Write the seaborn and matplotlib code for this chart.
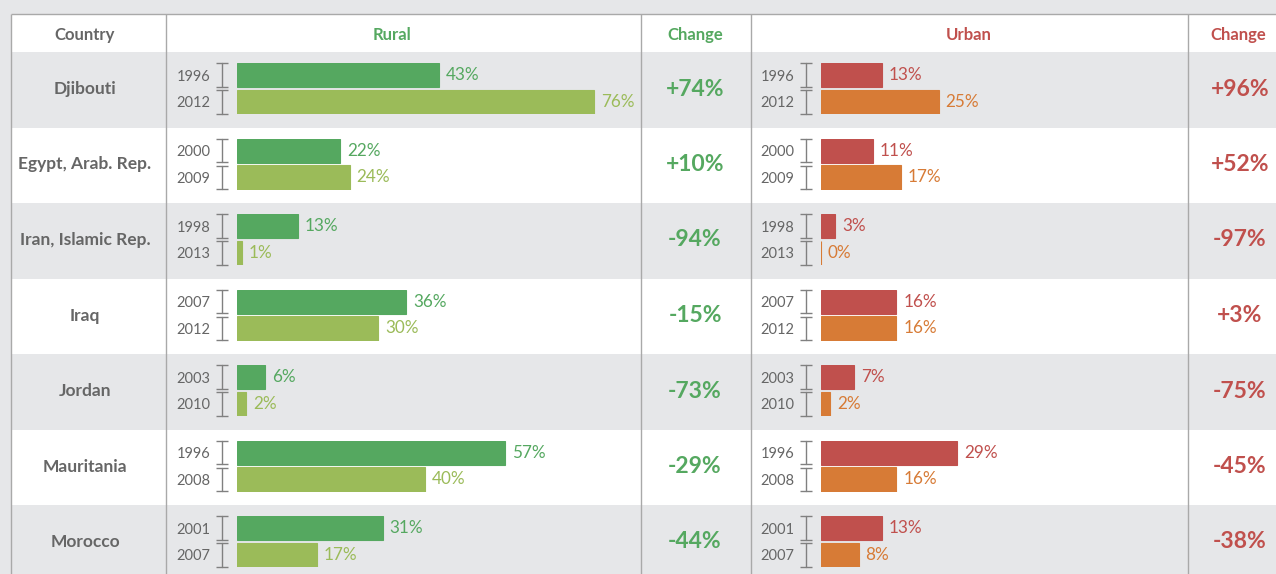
import matplotlib
matplotlib.use("Agg")
from matplotlib import pyplot as plt, transforms
from matplotlib.patches import Rectangle
import seaborn as sns
import pandas as pd

countries = ["Djibouti", "Egypt, Arab. Rep.", "Iran, Islamic Rep.", "Iraq",
             "Jordan", "Mauritania", "Morocco"]
years_first = ["1996", "2000", "1998", "2007", "2003", "1996", "2001"]
years_last = ["2012", "2009", "2013", "2012", "2010", "2008", "2007"]
rural_first = [43, 22, 13, 36, 6, 57, 31]
rural_last = [76, 24, 1, 30, 2, 40, 17]
urban_first = [13, 11, 3, 16, 7, 29, 13]
urban_last = [25, 17, 0, 16, 2, 16, 8]
rural_change = ["+74%", "+10%", "-94%", "-15%", "-73%", "-29%", "-44%"]
urban_change = ["+96%", "+52%", "-97%", "+3%", "-75%", "-45%", "-38%"]
headers = ["Country", "Rural", "Change", "Urban", "Change"]

W, H = 1276, 574
GRAY = "#e6e7e9"
LINE = "#a9a9a9"
TXT = "#666666"
GREEN, LGREEN = "#55a860", "#9bbb59"
RED, ORANGE = "#c0504d", "#d77b36"

sns.set_theme(style="white")
plt.rcParams["font.family"] = ["Lato", "DejaVu Sans"]

fig = plt.figure(figsize=(W / 100, H / 100), dpi=100, facecolor=GRAY)
bg = fig.add_axes([0, 0, 1, 1])
bg.set_xlim(0, W)
bg.set_ylim(H, 0)
bg.axis("off")

# table frame (pixel layout)
cols = [11, 166, 641, 751, 1188]
top, body_top, row_h = 14, 52, 75.5
px_per_pct = 4.7

bg.add_patch(Rectangle((11, top), W - 11, body_top - top, color="white", lw=0))
for i in range(len(countries)):
    if i % 2 == 1:
        bg.add_patch(Rectangle((11, body_top + i * row_h), W - 11, row_h,
                               color="white", lw=0))
bg.hlines(top, 11, W, color=LINE, lw=1)
bg.vlines(cols, top, H, color=LINE, lw=1)

head_x = [85, 392, 695, 969, 1238]
head_c = [TXT, GREEN, GREEN, RED, RED]
for x, t, c in zip(head_x, headers, head_c):
    bg.text(x, 35, t, ha="center", va="center", fontsize=12, fontweight="bold", color=c)


def bar_cell(left, row_top, right, years, vals, colors):
    ax = fig.add_axes([left / W, 1 - (row_top + 11 + 51) / H, (right - left) / W, 51 / H])
    d = pd.DataFrame({"year": years, "value": vals})
    sns.barplot(data=d, x="value", y="year", hue="year", palette=colors, orient="h",
                width=0.89, saturation=1, legend=False, ax=ax)
    ax.set_xlim(0, (right - left) / px_per_pct)
    ax.set_ylim(1.445, -0.445)
    ax.set_facecolor("none")
    for s in ax.spines.values():
        s.set_visible(False)
    ax.set_xticks([])
    ax.set_xlabel("")
    ax.set_ylabel("")
    ax.tick_params(axis="y", length=0, pad=19, labelsize=10.5, labelcolor=TXT)
    for cont, c in zip(ax.containers, colors):
        for p in cont:
            p.set_edgecolor(c)
            p.set_linewidth(0.8)
        ax.bar_label(cont, fmt="{:.0f}%", padding=5, color=c, fontsize=12.3)
    # bracket markers next to the years
    trans = transforms.offset_copy(ax.get_yaxis_transform(), fig=fig, x=-15, units="dots")
    for j in range(2):
        ax.plot([0, 0], [j - 0.43, j + 0.43], color="#808080", lw=1, marker="_",
                ms=8, mew=1, transform=trans, clip_on=False)
    return ax


for i, name in enumerate(countries):
    rt = body_top + i * row_h
    cy = rt + 37
    bg.text(85, cy, name, ha="center", va="center", fontsize=12.5, fontweight="bold", color=TXT)
    yrs = [years_first[i], years_last[i]]
    bar_cell(237, rt, 641, yrs, [rural_first[i], rural_last[i]], [GREEN, LGREEN])
    bar_cell(821, rt, 1188, yrs, [urban_first[i], urban_last[i]], [RED, ORANGE])
    bg.text(695, cy, rural_change[i], ha="center", va="center", fontsize=16.5,
            fontweight="bold", color=GREEN)
    bg.text(1240, cy, urban_change[i], ha="center", va="center", fontsize=16.5,
            fontweight="bold", color=RED)

fig.savefig("out.png", dpi=100, facecolor=GRAY)
